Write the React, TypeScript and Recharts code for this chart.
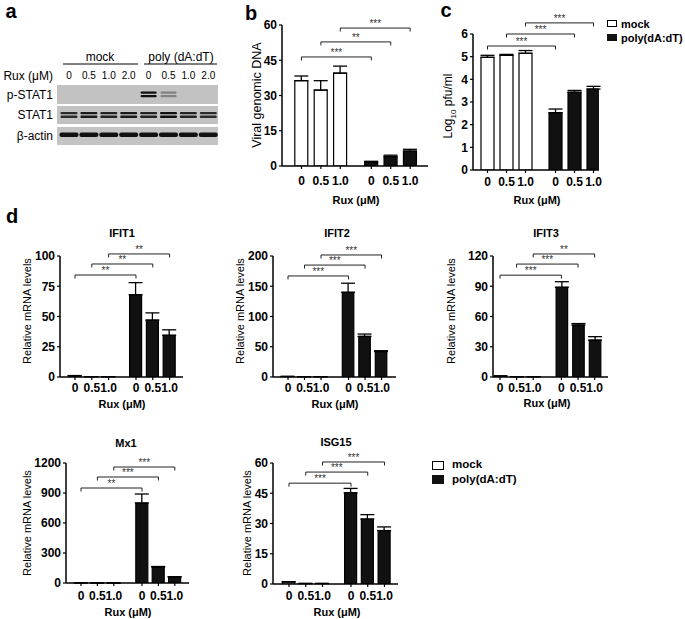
import React from 'react';
import { BarChart, Bar, XAxis, YAxis, ErrorBar, Cell, ReferenceLine } from 'recharts';

const W = 685;
const H = 619;
const FONT = '"Liberation Sans", Arial, Helvetica, sans-serif';

// ---------- data ----------
const doses = ['0', '0.5', '1.0'];
const legendGroups = ['mock', 'poly(dA:dT)'];

// panel a (western blot)
const blotDoses = ['0', '0.5', '1.0', '2.0', '0', '0.5', '1.0', '2.0'];
const blotRows = ['p-STAT1', 'STAT1', 'β-actin'];
const pStat1Signal = [0, 0, 0, 0, 1, 0.3, 0, 0];
const stat1Signal = [0.85, 0.95, 0.9, 0.95, 0.9, 1, 0.9, 0.85];
const actinSignal = [1, 1, 1, 1, 1, 1, 1, 1];

// panel b
const viralMock = [36.3, 32.3, 39.5];
const viralMockErr = [2.0, 4.0, 3.0];
const viralPoly = [1.7, 4.0, 6.3];
const viralPolyErr = [0.3, 0.6, 0.8];
const viralBrackets = [
  { from: 0, to: 3, y: 46.4, stars: '***' },
  { from: 1, to: 4, y: 52.8, stars: '**' },
  { from: 2, to: 5, y: 58.7, stars: '***' },
];

// panel c
const pfuMock = [4.97, 5.06, 5.15];
const pfuMockErr = [0.09, 0.04, 0.12];
const pfuPoly = [2.53, 3.43, 3.57];
const pfuPolyErr = [0.16, 0.08, 0.12];
const pfuBrackets = [
  { from: 0, to: 3, y: 5.47, stars: '***' },
  { from: 1, to: 4, y: 6.0, stars: '***' },
  { from: 2, to: 5, y: 6.49, stars: '***' },
];

// panel d
const ifit1Mock = [1.0, 0.3, 0.3];
const ifit1MockErr = [0.2, 0, 0];
const ifit1Poly = [68, 47, 34.5];
const ifit1PolyErr = [10, 6, 4.5];
const ifit1Brackets = [
  { from: 0, to: 3, y: 84.3, stars: '**' },
  { from: 1, to: 4, y: 93.4, stars: '**' },
  { from: 2, to: 5, y: 101.7, stars: '**' },
];

const ifit2Mock = [0.8, 0.5, 0.5];
const ifit2MockErr = [0.2, 0, 0];
const ifit2Poly = [140, 67, 42];
const ifit2PolyErr = [15, 4, 1.5];
const ifit2Brackets = [
  { from: 0, to: 3, y: 167, stars: '***' },
  { from: 1, to: 4, y: 185, stars: '***' },
  { from: 2, to: 5, y: 201.7, stars: '***' },
];

const ifit3Mock = [0.9, 0.3, 0.3];
const ifit3MockErr = [0.2, 0, 0];
const ifit3Poly = [89, 51.5, 36.5];
const ifit3PolyErr = [5.5, 1.5, 3.5];
const ifit3Brackets = [
  { from: 0, to: 3, y: 101, stars: '***' },
  { from: 1, to: 4, y: 112, stars: '***' },
  { from: 2, to: 5, y: 122, stars: '**' },
];

const mx1Mock = [1, 0.5, 0.5];
const mx1MockErr = [0, 0, 0];
const mx1Poly = [800, 160, 60];
const mx1PolyErr = [90, 5, 3];
const mx1Brackets = [
  { from: 0, to: 3, y: 950, stars: '**' },
  { from: 1, to: 4, y: 1060, stars: '***' },
  { from: 2, to: 5, y: 1160, stars: '***' },
];

const isg15Mock = [1.0, 0.25, 0.25];
const isg15MockErr = [0.1, 0, 0];
const isg15Poly = [45.2, 32.2, 26.5];
const isg15PolyErr = [2.2, 2.2, 1.8];
const isg15Brackets = [
  { from: 0, to: 3, y: 50, stars: '***' },
  { from: 1, to: 4, y: 55.5, stars: '***' },
  { from: 2, to: 5, y: 60.5, stars: '***' },
];

// ---------- layout ----------
type Cfg = {
  left: number; right: number; top: number; bottom: number;
  yMax: number; yTicks: number[]; x0: number; unit: number; gap: number;
  barW: number; xtm: number;
};

const cfgB: Cfg = { left: 282, right: 428, top: 25, bottom: 166, yMax: 60, yTicks: [0, 15, 30, 45, 60], x0: 301.5, unit: 19.4, gap: 3.6, barW: 13, xtm: 7 };
const cfgC: Cfg = { left: 473, right: 599, top: 34, bottom: 170, yMax: 6, yTicks: [0, 1, 2, 3, 4, 5, 6], x0: 487.5, unit: 19, gap: 3.58, barW: 13, xtm: 4 };
const cfgI1: Cfg = { left: 60, right: 183, top: 256, bottom: 377, yMax: 100, yTicks: [0, 25, 50, 75, 100], x0: 75, unit: 16.8, gap: 3.63, barW: 12, xtm: 3 };
const cfgI2: Cfg = { left: 273, right: 396, top: 256, bottom: 377, yMax: 200, yTicks: [0, 50, 100, 150, 200], x0: 288, unit: 16.5, gap: 3.67, barW: 11.5, xtm: 3 };
const cfgI3: Cfg = { left: 493, right: 608, top: 256, bottom: 377, yMax: 120, yTicks: [0, 30, 60, 90, 120], x0: 500, unit: 16.6, gap: 3.7, barW: 11.5, xtm: 3 };
const cfgMx: Cfg = { left: 66, right: 189, top: 463, bottom: 583, yMax: 1200, yTicks: [0, 300, 600, 900, 1200], x0: 81, unit: 16.4, gap: 3.72, barW: 12, xtm: 5 };
const cfgIs: Cfg = { left: 273, right: 398, top: 463, bottom: 584, yMax: 60, yTicks: [0, 15, 30, 45, 60], x0: 289, unit: 16.75, gap: 3.7, barW: 12, xtm: 4 };

type Br = { from: number; to: number; y: number; stars: string };

function Stars(props: any) {
  const vb = props.viewBox || {};
  const x = (vb.x || 0) + (vb.width || 0) / 2;
  const y = (vb.y || 0) - 1;
  return (
    <text x={x} y={y} textAnchor="middle" fontSize={10} fill="#333" stroke="none" fontFamily={FONT} opacity={0.99}>
      {props.stars}
    </text>
  );
}

function Panel(props: {
  cfg: Cfg; mock: number[]; mockErr: number[]; poly: number[]; polyErr: number[]; brackets: Br[];
}) {
  const { cfg, mock, mockErr, poly, polyErr, brackets } = props;
  const pos = [0, 1, 2, cfg.gap, cfg.gap + 1, cfg.gap + 2];
  const rows = pos.map((x, i) => ({
    x,
    v: i < 3 ? mock[i] : poly[i - 3],
    e: [0, i < 3 ? mockErr[i] : polyErr[i - 3]],
    g: i < 3 ? 0 : 1,
  }));
  const domain = [(cfg.left - cfg.x0) / cfg.unit, (cfg.right - cfg.x0) / cfg.unit];
  const tickLabels = [...doses, ...doses];
  const dropV = (3.5 * cfg.yMax) / (cfg.bottom - cfg.top);
  const tickStyle = { fill: '#000', fontSize: 12, fontWeight: 700, fontFamily: FONT };
  return (
    <div style={{ position: 'absolute', left: 0, top: 0, width: W, height: H, pointerEvents: 'none' }}>
      <BarChart
        width={W}
        height={H}
        data={rows}
        margin={{ top: cfg.top, bottom: H - cfg.bottom - 30, left: cfg.left - 40, right: W - cfg.right }}
      >
        <XAxis
          dataKey="x"
          type="number"
          domain={domain}
          ticks={pos}
          interval={0}
          allowDataOverflow
          height={30}
          tickFormatter={(_v: any, i: number) => tickLabels[i]}
          tickSize={3}
          tickMargin={cfg.xtm}
          axisLine={{ stroke: '#000', strokeWidth: 1.5 }}
          tickLine={{ stroke: '#000', strokeWidth: 1.2 }}
          tick={tickStyle}
        />
        <YAxis
          type="number"
          domain={[0, cfg.yMax]}
          ticks={cfg.yTicks}
          interval={0}
          allowDataOverflow
          width={40}
          tickSize={3}
          tickMargin={2}
          axisLine={{ stroke: '#000', strokeWidth: 1.5 }}
          tickLine={{ stroke: '#000', strokeWidth: 1.2 }}
          tick={tickStyle}
        />
        <Bar dataKey="v" barSize={cfg.barW} isAnimationActive={false} stroke="#000" strokeWidth={1.2}>
          {rows.map((r, i) => (
            <Cell key={i} fill={r.g ? '#111' : '#fff'} />
          ))}
          <ErrorBar dataKey="e" width={7} stroke="#000" strokeWidth={1.3} direction="y" />
        </Bar>
        {brackets.map((b, i) => (
          <ReferenceLine
            key={'h' + i}
            segment={[{ x: pos[b.from], y: b.y }, { x: pos[b.to], y: b.y }]}
            stroke="#222"
            strokeWidth={1}
            ifOverflow="visible"
            label={(lp: any) => <Stars {...lp} stars={b.stars} />}
          />
        ))}
        {brackets.map((b, i) => (
          <ReferenceLine
            key={'l' + i}
            segment={[{ x: pos[b.from], y: b.y }, { x: pos[b.from], y: b.y - dropV }]}
            stroke="#222"
            strokeWidth={1}
            ifOverflow="visible"
          />
        ))}
        {brackets.map((b, i) => (
          <ReferenceLine
            key={'r' + i}
            segment={[{ x: pos[b.to], y: b.y }, { x: pos[b.to], y: b.y - dropV }]}
            stroke="#222"
            strokeWidth={1}
            ifOverflow="visible"
          />
        ))}
      </BarChart>
    </div>
  );
}

function T(props: {
  x: number; y: number; children: React.ReactNode; size?: number; bold?: boolean; rotate?: boolean; anchor?: 'start' | 'middle' | 'end';
}) {
  const { x, y, children, size = 12, bold = false, rotate = false, anchor = 'middle' } = props;
  const tx = anchor === 'middle' ? '-50%' : anchor === 'end' ? '-100%' : '0';
  return (
    <div
      style={{
        position: 'absolute',
        left: x,
        top: y,
        transform: `translate(${tx}, -50%)${rotate ? ' rotate(-90deg)' : ''}`,
        transformOrigin: rotate ? 'center center' : undefined,
        whiteSpace: 'nowrap',
        fontFamily: FONT,
        fontSize: size,
        fontWeight: bold ? 700 : 400,
        color: '#000',
        lineHeight: 1,
      }}
    >
      {children}
    </div>
  );
}

function Blot() {
  const laneX = blotDoses.map((_, i) => 69 + i * 19.9);
  return (
    <svg width={W} height={H} style={{ position: 'absolute', left: 0, top: 0 }}>
      <line x1={63} x2={138} y1={64} y2={64} stroke="#000" strokeWidth={1} />
      <line x1={144} x2={217} y1={64} y2={64} stroke="#000" strokeWidth={1} />
      <rect x={57} y={85} width={161} height={19} fill="#c2c2c2" />
      <rect x={57} y={106} width={161} height={18} fill="#c2c2c2" />
      <rect x={57} y={127} width={161} height={18} fill="#c4c4c4" />
      {laneX.map((x, i) =>
        pStat1Signal[i] > 0 ? (
          <g key={'p' + i} opacity={pStat1Signal[i] > 0.5 ? 1 : 0.35}>
            <rect x={x - 8} y={91.5} width={16} height={2.2} rx={1} fill="#111" />
            <rect x={x - 8} y={95} width={16} height={2.2} rx={1} fill="#111" />
          </g>
        ) : null
      )}
      {laneX.map((x, i) => (
        <g key={'s' + i} opacity={stat1Signal[i]}>
          <rect x={x - 8.5} y={112} width={17} height={2.2} rx={1} fill="#111" />
          <rect x={x - 8.5} y={115.5} width={17} height={2.4} rx={1} fill="#111" />
        </g>
      ))}
      {laneX.map((x, i) => (
        <rect key={'a' + i} x={x - 9.5} y={132.5} width={19} height={4.5} rx={2} fill="#111" opacity={actinSignal[i]} />
      ))}
    </svg>
  );
}

export default function App() {
  return (
    <div style={{ position: 'absolute', left: 0, top: 0, width: W, height: H, background: '#fff', overflow: 'hidden' }}>
      <Blot />
      <Panel cfg={cfgB} mock={viralMock} mockErr={viralMockErr} poly={viralPoly} polyErr={viralPolyErr} brackets={viralBrackets} />
      <Panel cfg={cfgC} mock={pfuMock} mockErr={pfuMockErr} poly={pfuPoly} polyErr={pfuPolyErr} brackets={pfuBrackets} />
      <Panel cfg={cfgI1} mock={ifit1Mock} mockErr={ifit1MockErr} poly={ifit1Poly} polyErr={ifit1PolyErr} brackets={ifit1Brackets} />
      <Panel cfg={cfgI2} mock={ifit2Mock} mockErr={ifit2MockErr} poly={ifit2Poly} polyErr={ifit2PolyErr} brackets={ifit2Brackets} />
      <Panel cfg={cfgI3} mock={ifit3Mock} mockErr={ifit3MockErr} poly={ifit3Poly} polyErr={ifit3PolyErr} brackets={ifit3Brackets} />
      <Panel cfg={cfgMx} mock={mx1Mock} mockErr={mx1MockErr} poly={mx1Poly} polyErr={mx1PolyErr} brackets={mx1Brackets} />
      <Panel cfg={cfgIs} mock={isg15Mock} mockErr={isg15MockErr} poly={isg15Poly} polyErr={isg15PolyErr} brackets={isg15Brackets} />

      {/* panel letters */}
      <T x={11} y={11} size={20} bold>a</T>
      <T x={251} y={13} size={20} bold>b</T>
      <T x={446} y={10} size={20} bold>c</T>
      <T x={12} y={216} size={20} bold>d</T>

      {/* blot texts */}
      <T x={100} y={57} size={12}>mock</T>
      <T x={181} y={57} size={12}>poly (dA:dT)</T>
      <T x={53} y={76} size={12} anchor="end">Rux (μM)</T>
      {blotDoses.map((d, i) => (
        <T key={i} x={69 + i * 19.9} y={76} size={10}>{d}</T>
      ))}
      <T x={53} y={95} size={12} anchor="end">{blotRows[0]}</T>
      <T x={53} y={115} size={12} anchor="end">{blotRows[1]}</T>
      <T x={53} y={136} size={12} anchor="end">{blotRows[2]}</T>

      {/* b / c axis titles */}
      <T x={257} y={95} size={12.5} rotate>Viral genomic DNA</T>
      <T x={356} y={200} size={11} bold>Rux (μM)</T>
      <T x={450} y={106} size={12} rotate>
        <span>Log<sub style={{ fontSize: 8 }}>10</sub> pfu/ml</span>
      </T>
      <T x={537} y={200} size={11} bold>Rux (μM)</T>

      {/* legend c */}
      <div style={{ position: 'absolute', left: 607, top: 20, width: 10, height: 7, border: '1px solid #000', background: '#fff', boxSizing: 'border-box' }} />
      <div style={{ position: 'absolute', left: 607, top: 34, width: 10, height: 7, background: '#111' }} />
      <T x={621} y={24} size={11} bold anchor="start">{legendGroups[0]}</T>
      <T x={621} y={38} size={11} bold anchor="start">{legendGroups[1]}</T>

      {/* d titles */}
      <T x={122} y={233} size={11} bold>IFIT1</T>
      <T x={337} y={233} size={11} bold>IFIT2</T>
      <T x={546} y={233} size={11} bold>IFIT3</T>
      <T x={126} y={443} size={11} bold>Mx1</T>
      <T x={336} y={442} size={11} bold>ISG15</T>

      {/* d y labels */}
      <T x={27} y={311} size={11} rotate>Relative mRNA levels</T>
      <T x={240} y={311} size={11} rotate>Relative mRNA levels</T>
      <T x={451} y={311} size={11} rotate>Relative mRNA levels</T>
      <T x={27} y={523} size={11} rotate>Relative mRNA levels</T>
      <T x={247} y={523} size={11} rotate>Relative mRNA levels</T>

      {/* d x labels */}
      <T x={122} y={404} size={11} bold>Rux (μM)</T>
      <T x={335} y={404} size={11} bold>Rux (μM)</T>
      <T x={547} y={403} size={11} bold>Rux (μM)</T>
      <T x={128} y={612} size={11} bold>Rux (μM)</T>
      <T x={337} y={612} size={11} bold>Rux (μM)</T>

      {/* legend d */}
      <div style={{ position: 'absolute', left: 432, top: 461, width: 12, height: 9, border: '1px solid #000', background: '#fff', boxSizing: 'border-box' }} />
      <div style={{ position: 'absolute', left: 432, top: 475, width: 12, height: 9, background: '#111' }} />
      <T x={452} y={465} size={11.5} bold anchor="start">{legendGroups[0]}</T>
      <T x={452} y={480} size={11.5} bold anchor="start">{legendGroups[1]}</T>
    </div>
  );
}
